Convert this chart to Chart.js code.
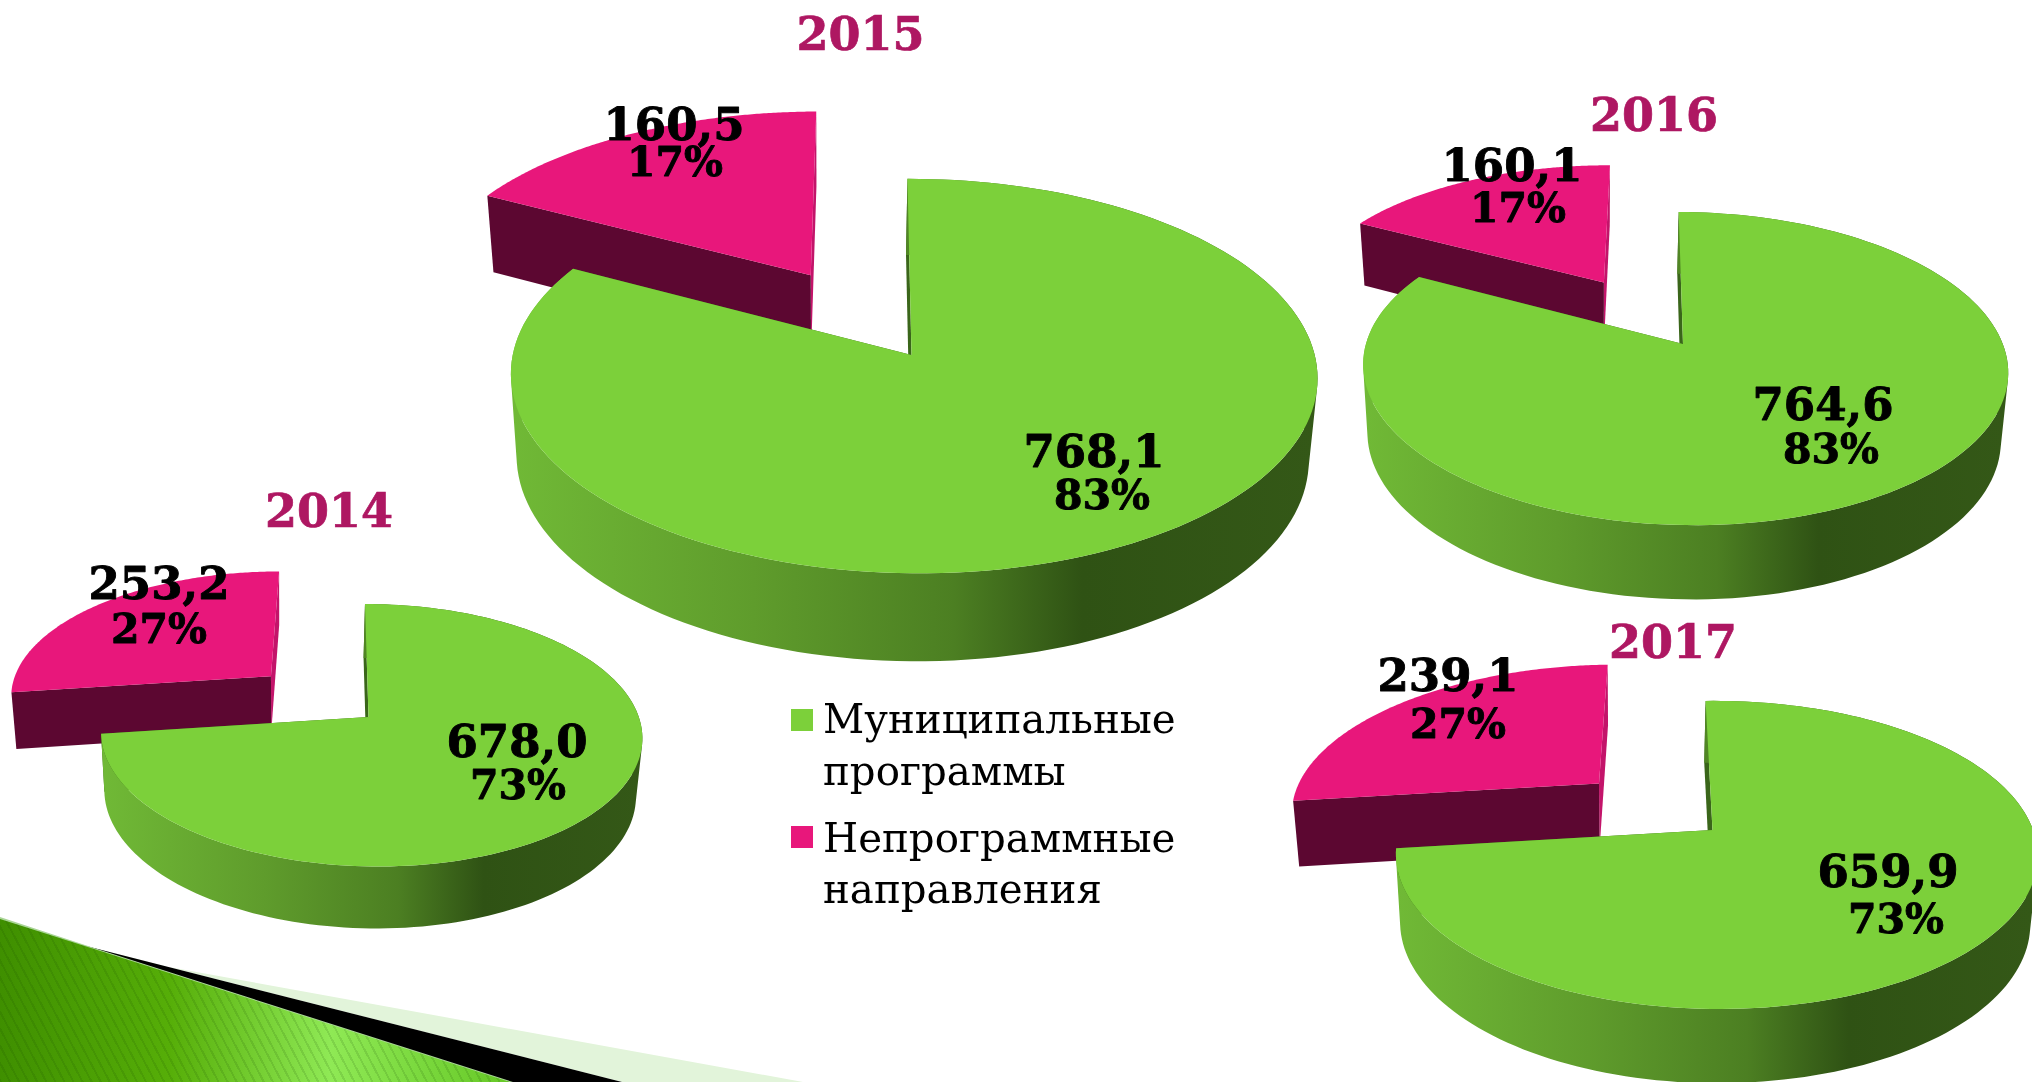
<!DOCTYPE html>
<html lang="ru">
<head>
<meta charset="utf-8">
<title>Муниципальные программы и непрограммные направления</title>
<script src="https://cdn.jsdelivr.net/npm/chart.js@4"></script>
<style>
html,body{margin:0;padding:0;background:#fff;width:2032px;height:1082px;overflow:hidden}
canvas{position:absolute;left:0;top:0}
.deco{position:absolute;left:0;top:0;width:2032px;height:1082px}
.txt{position:absolute;white-space:nowrap;font-family:"DejaVu Serif",serif}
.year{font-weight:bold;font-size:46px;color:#ae1762;transform:translate(-50%,-50%);line-height:1;-webkit-text-stroke:0.7px #ae1762}
.leg{font-size:40.3px;color:#000;line-height:1}
.sq{position:absolute;width:22px;height:22px}
</style>
</head>
<body>
<div class="deco" style="background:#e2f4da;clip-path:polygon(86px 946px,130px 960px,803px 1082px,622px 1082px)"></div>
<div class="deco" style="background:#000;clip-path:polygon(86px 946px,622px 1082px,510px 1082px)"></div>
<div class="deco" style="background:#a9d596;clip-path:polygon(0 917px,91px 947px,513px 1082px,0 1082px)"></div>
<div class="deco" style="background:repeating-linear-gradient(62deg,rgba(20,70,0,.13) 0 2px,rgba(0,0,0,0) 2px 8px),linear-gradient(90deg,#3f8f00 0,#56ae08 170px,#8fe955 330px,#66c826 510px);clip-path:polygon(0 919px,91px 948px,510px 1082px,0 1082px)"></div>
<script>
// ---- data ----
const seriesNames = ['Муниципальные программы', 'Непрограммные направления'];
const legendLines = [['Муниципальные', 'программы'], ['Непрограммные', 'направления']];
const years = ['2014', '2015', '2016', '2017'];
const municipal = [678.0, 768.1, 764.6, 659.9];
const nonProgram = [253.2, 160.5, 160.1, 239.1];

// ---- colours ----
const topColors = ['#7cd03a', '#e8177b'];
const wallGreenStops = [[0, '#70b936'], [0.3, '#5f9c2c'], [0.55, '#4c7f22'], [0.71, '#2f5214'], [1, '#345817']];
const wallGreenEdge = '#3a661a';
const wallPink = '#5c0731';
const wallPinkEdge = '#c3146a';

// ---- layout: how each flat pie is seen in perspective ----
const views = {
  '2014': {x0: 368.5, y0: 717, A: 268, B: 128.7, c: -0.139, e: -0.0097, s: 4, t: 1, depth: 58, slope: 0.03, kx: 0.982, pink: 1.015},
  '2015': {x0: 911.5, y0: 355, A: 401, B: 195, c: -0.107, e: -0.0055, s: 4.5, t: 0, depth: 82, slope: 0.03, kx: 0.982, pink: 1.015},
  '2016': {x0: 1683, y0: 344, A: 318.5, B: 152.7, c: -0.157, e: -0.0058, s: 5, t: 1.5, depth: 68, slope: 0.04, kx: 0.982, pink: 1.005},
  '2017': {x0: 1712.5, y0: 830, A: 316.5, B: 150, c: -0.162, e: -0.009, s: 8, t: -3, depth: 68, slope: 0.04, kx: 0.982, pink: 1.02}
};
const yearTitleAt = {'2014': [329, 511], '2015': [860.5, 34], '2016': [1654, 115], '2017': [1673, 642]};
const labelAt = {
  '2014': [[[517, 745], [518, 788]], [[159, 587], [159, 632]]],
  '2015': [[[1094, 455], [1102, 498]], [[674, 128], [675, 165]]],
  '2016': [[[1823, 408], [1831, 452]], [[1512, 169], [1518, 211]]],
  '2017': [[[1888, 875], [1896, 922]], [[1448, 679], [1458, 727]]]
};
const W = 2032, H = 1082;
const explodeOffset = 216.4;   // half of the resulting radius

function project(view, u, v) {
  const w = 1 + view.c * v + view.e * u;
  return {X: view.x0 + (view.A * u + view.s * v) / w, Y: view.y0 + (view.B * v + view.t * u) / w};
}
function lower(view, p, midY) {
  return {
    X: view.x0 + view.kx * (p.X - view.x0) - 1.5,
    Y: p.Y + view.depth + view.slope * (p.Y - midY)
  };
}
function addQuad(ctx, a, b, c, d) {
  const area = (b.X - a.X) * (c.Y - a.Y) - (c.X - a.X) * (b.Y - a.Y) + (c.X - a.X) * (d.Y - a.Y) - (d.X - a.X) * (c.Y - a.Y);
  const q = area >= 0 ? [a, b, c, d] : [d, c, b, a];
  ctx.moveTo(q[0].X, q[0].Y);
  for (let i = 1; i < 4; i++) ctx.lineTo(q[i].X, q[i].Y);
  ctx.closePath();
}

// Arc element that keeps Chart.js's computed angles, radius and offset, and paints them as a solid seen in perspective.
class Arc3D extends Chart.ArcElement {
  static id = 'arc3d';
  draw(ctx) {
    const view = this.view;
    const {startAngle, endAngle, outerRadius} = this.getProps(['startAngle', 'endAngle', 'outerRadius']);
    const off = (this.options.offset || 0) / outerRadius;
    const isGreen = this.options.backgroundColor === topColors[0];
    const rr = isGreen ? 1 : view.pink;
    const mid = (startAngle + endAngle) / 2;
    const du = off * Math.cos(mid), dv = off * Math.sin(mid);
    const midY = (project(view, 0, -1).Y + project(view, 0, 1).Y) / 2;
    const steps = 160;
    const rim = [];
    for (let i = 0; i <= steps; i++) {
      const a = startAngle + (endAngle - startAngle) * i / steps;
      rim.push(project(view, rr * Math.cos(a) + du, rr * Math.sin(a) + dv));
    }
    const apex = project(view, du, dv);
    const rimLow = rim.map(p => lower(view, p, midY));
    const apexLow = lower(view, apex, midY);

    ctx.fillStyle = isGreen ? wallGreenEdge : wallPinkEdge;
    ctx.beginPath();
    addQuad(ctx, apex, rim[steps], rimLow[steps], apexLow);
    ctx.fill();
    ctx.fillStyle = isGreen ? wallGreenEdge : wallPink;
    ctx.beginPath();
    addQuad(ctx, apex, rim[0], rimLow[0], apexLow);
    ctx.fill();

    if (isGreen) {
      const g = ctx.createLinearGradient(project(view, -1, 0).X, 0, project(view, 1, 0).X, 0);
      wallGreenStops.forEach(s => g.addColorStop(s[0], s[1]));
      ctx.fillStyle = g;
      ctx.beginPath();
      for (let i = 0; i < steps; i++) addQuad(ctx, rim[i], rim[i + 1], rimLow[i + 1], rimLow[i]);
      ctx.fill();
    }

    ctx.fillStyle = this.options.backgroundColor;
    ctx.beginPath();
    ctx.moveTo(apex.X, apex.Y);
    rim.forEach(p => ctx.lineTo(p.X, p.Y));
    ctx.closePath();
    ctx.fill();
  }
}
class Pie3DController extends Chart.PieController {
  static id = 'pie3d';
  static defaults = {dataElementType: 'arc3d'};
  draw() {
    const ctx = this.chart.ctx;
    const view = views[this.chart.canvas.dataset.year];
    const arcs = this._cachedMeta.data;
    for (let i = arcs.length - 1; i >= 0; i--) {
      arcs[i].view = view;
      arcs[i].draw(ctx);
    }
  }
}
Chart.register(Arc3D, Pie3DController);

const valueLabels = {
  id: 'valueLabels',
  afterDraw(chart) {
    const ctx = chart.ctx;
    const year = chart.canvas.dataset.year;
    const values = chart.data.datasets[0].data;
    const total = values[0] + values[1];
    ctx.save();
    ctx.fillStyle = '#000';
    ctx.strokeStyle = '#000';
    ctx.lineWidth = 0.9;
    ctx.lineJoin = 'round';
    ctx.textAlign = 'center';
    ctx.textBaseline = 'middle';
    values.forEach((val, i) => {
      const at = labelAt[year][i];
      const big = val.toFixed(1).replace('.', ',');
      const pct = Math.round(val / total * 100) + '%';
      ctx.font = 'bold 45px "DejaVu Serif"';
      ctx.fillText(big, at[0][0], at[0][1]);
      ctx.strokeText(big, at[0][0], at[0][1]);
      ctx.font = 'bold 41px "DejaVu Serif"';
      ctx.fillText(pct, at[1][0], at[1][1]);
      ctx.strokeText(pct, at[1][0], at[1][1]);
    });
    ctx.restore();
  }
};

years.forEach((year, i) => {
  const cv = document.createElement('canvas');
  cv.width = W; cv.height = H;
  cv.dataset.year = year;
  document.body.appendChild(cv);
  new Chart(cv, {
    type: 'pie3d',
    plugins: [valueLabels],
    data: {
      labels: seriesNames,
      datasets: [{
        data: [municipal[i], nonProgram[i]],
        backgroundColor: topColors,
        offset: [0, explodeOffset],
        borderWidth: 0,
        hoverOffset: 0
      }]
    },
    options: {
      responsive: false,
      animation: false,
      events: [],
      layout: {padding: 0},
      plugins: {legend: {display: false}, tooltip: {enabled: false}, title: {display: false}}
    }
  });
  const t = document.createElement('div');
  t.className = 'txt year';
  t.textContent = year;
  t.style.left = yearTitleAt[year][0] + 'px';
  t.style.top = yearTitleAt[year][1] + 'px';
  document.body.appendChild(t);
});

// legend
const legendSquareY = [709, 826];
const legendLineTops = [[700, 752], [819, 870]];
legendLines.forEach((lines, i) => {
  const s = document.createElement('div');
  s.className = 'sq';
  s.style.cssText = 'left:791px;top:' + legendSquareY[i] + 'px;background:' + topColors[i];
  document.body.appendChild(s);
  lines.forEach((line, j) => {
    const d = document.createElement('div');
    d.className = 'txt leg';
    d.textContent = line;
    d.style.left = '823px';
    d.style.top = legendLineTops[i][j] + 'px';
    document.body.appendChild(d);
  });
});
</script>
</body>
</html>
